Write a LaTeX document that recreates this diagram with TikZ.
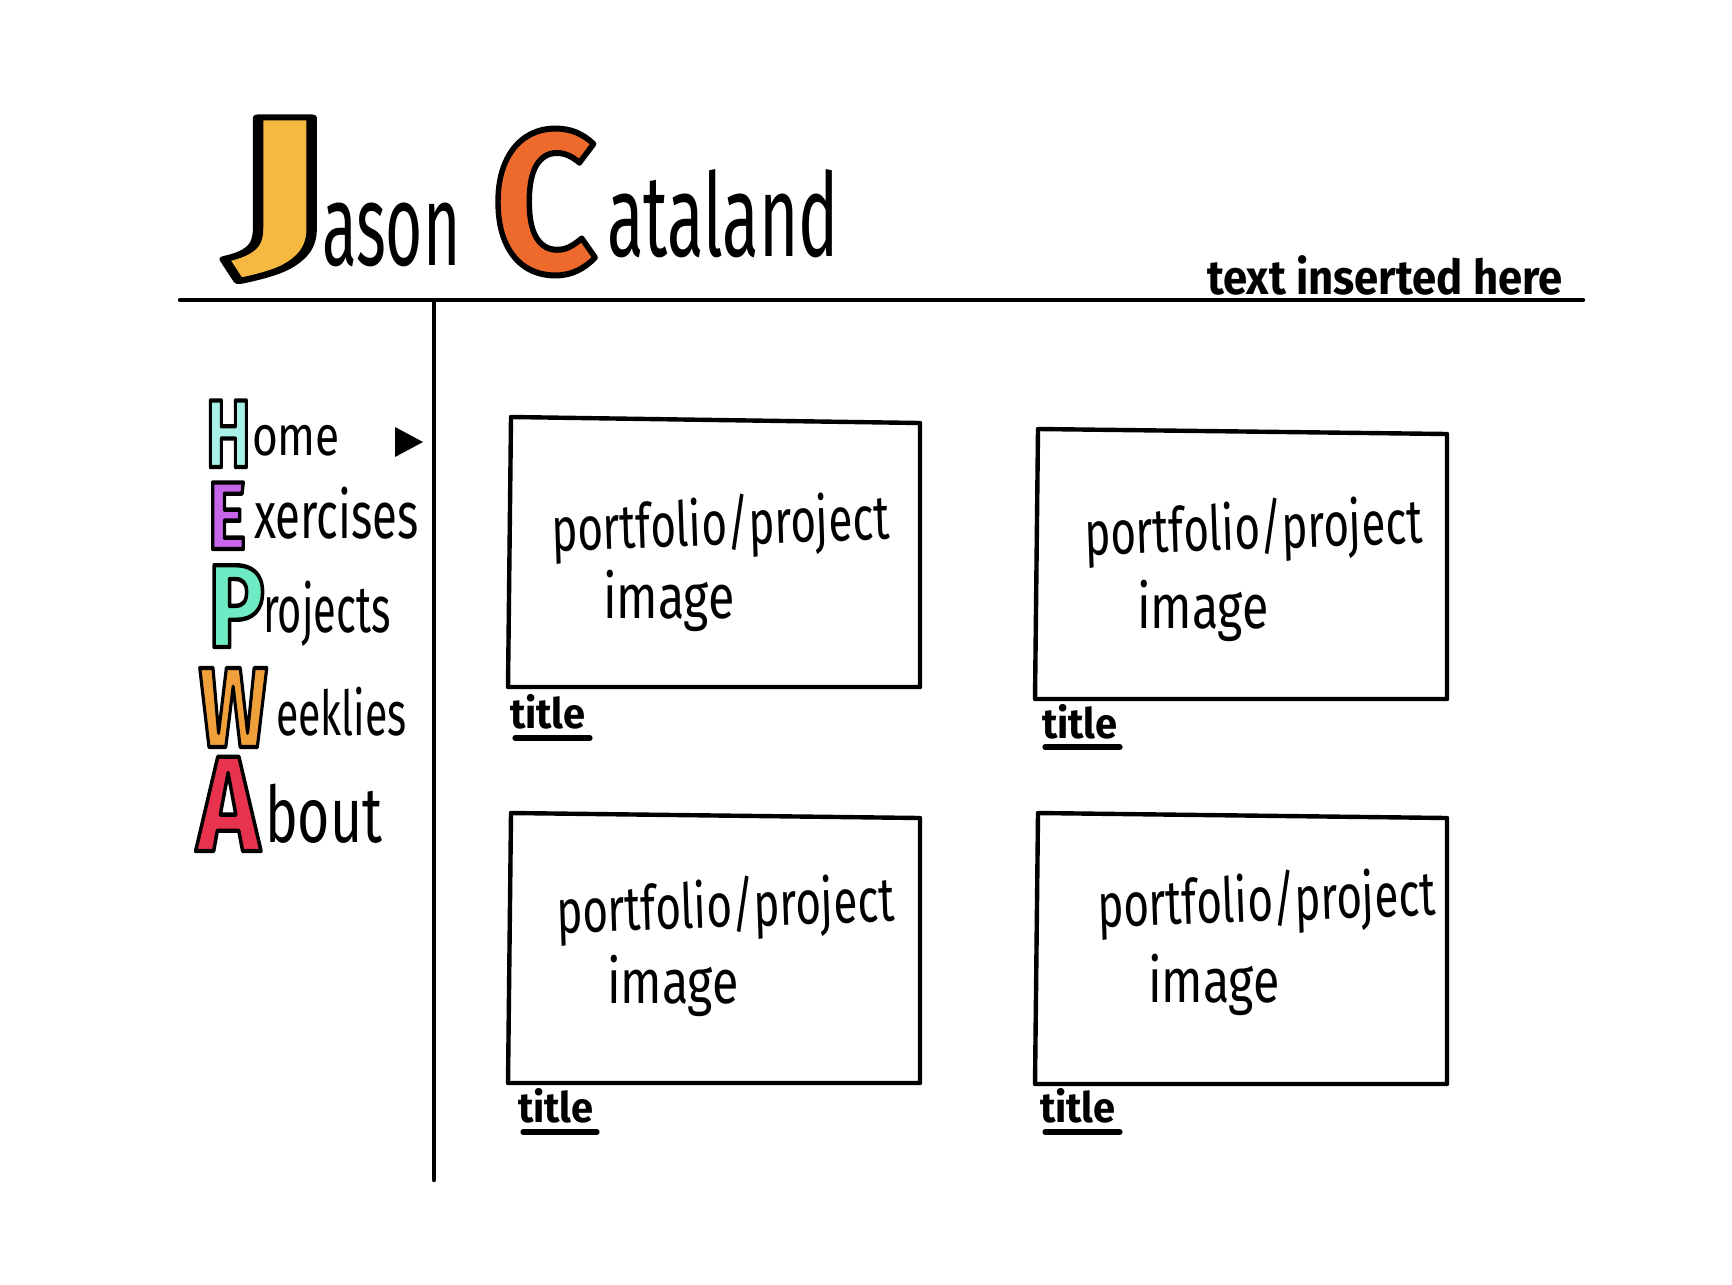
\documentclass[tikz,border=0pt]{standalone}
\usepackage{fontspec}
\setmainfont{Fira Sans}
\definecolor{jcol}{HTML}{F5B942}
\definecolor{ccol}{HTML}{EE6A2C}
\definecolor{hcol}{HTML}{A9F0E8}
\definecolor{ecol}{HTML}{C765EA}
\definecolor{pcol}{HTML}{6EEBC4}
\definecolor{wcol}{HTML}{F0A03A}
\definecolor{acol}{HTML}{E8334F}
\newcommand{\fs}[1]{\fontsize{#1}{#1}\selectfont}
\newcommand{\bigletter}[5]{\fs{#1}\bfseries\scalebox{#2}[1]{\textcolor{#3}{\special{pdf:literal direct 2 Tr #5 w 0 0 0 RG 1 j}#4\special{pdf:literal direct 0 Tr}}}}
\begin{document}
\begin{tikzpicture}[x=0.5pt,y=-0.5pt,
  txt/.style={inner sep=0pt,outer sep=0pt,anchor=base west},
  rule/.style={line width=2.2pt,line cap=round},
  card/.style={line width=2.2pt,line join=round},
  uline/.style={line width=2.6pt,line cap=round}]
\useasboundingbox (0,0) rectangle (1732,1284);
\fill[white] (0,0) rectangle (1732,1284);

% header name
\node[txt] (J) at (228,249) {\bigletter{95}{1.72}{jcol}{J}{3}};
\node[txt] (ason) at (322,265) {\fs{58}\scalebox{0.55}[1]{ason}};
\node[txt] (C) at (492,272) {\bigletter{101}{0.9}{ccol}{C}{3}};
\node[txt] (ataland) at (607,256) {\fs{58}\scalebox{0.58}[1]{ataland}};
\node[txt] (tagline) at (1207,294) {\fs{24}\bfseries\scalebox{0.91}[1]{text inserted here}};

% rules
\coordinate (hl) at (180,300);
\coordinate (hr) at (1583,300);
\coordinate (vt) at (434,300);
\coordinate (vb) at (434,1180);
\draw[rule] (hl) -- (hr);
\draw[rule] (vt) -- (vb);

% navigation
\node[txt] (H) at (206,467) {\bigletter{48}{0.7}{hcol}{H}{2.2}};
\node[txt] (home) at (252,455) {\fs{28}\scalebox{0.79}[1]{ome}};
\coordinate (t1) at (395,427);
\coordinate (t2) at (423,442);
\coordinate (t3) at (395,457);
\fill (t1) -- (t2) -- (t3) -- cycle;
\node[txt] (E) at (208,549) {\bigletter{48}{0.75}{ecol}{E}{2.2}};
\node[txt] (exer) at (254,538) {\fs{33}\scalebox{0.69}[1]{xercises}};
\node[txt] (P) at (208,647) {\bigletter{59}{0.8}{pcol}{P}{2.2}};
\node[txt] (proj) at (263,632) {\fs{33}\scalebox{0.63}[1]{rojects}};
\node[txt] (W) at (199,747) {\bigletter{57}{0.71}{wcol}{W}{2.2}};
\node[txt] (week) at (276,735) {\fs{31}\scalebox{0.66}[1]{eeklies}};
\node[txt] (A) at (197,851) {\bigletter{68}{0.78}{acol}{A}{2.2}};
\node[txt] (about) at (265,842) {\fs{39}\scalebox{0.71}[1]{bout}};

% cards
\draw[card] (511,417) -- (920,423) -- (920,687) -- (508,687) -- cycle;
\node[txt,rotate=2] (p1) at (552,551) {\fs{31}\scalebox{0.71}[1]{portfolio/project}};
\node[txt] (i1) at (603,618) {\fs{31}\scalebox{0.78}[1]{image}};
\node[txt] (ti1) at (510,728) {\fs{21}\bfseries\scalebox{0.95}[1]{title}};
\coordinate (u1a) at (515,738); \coordinate (u1b) at (590,738);
\draw[uline] (u1a) -- (u1b);

\draw[card] (1038,429) -- (1447,434) -- (1447,699) -- (1035,699) -- cycle;
\node[txt,rotate=2] (p2) at (1085,555) {\fs{31}\scalebox{0.71}[1]{portfolio/project}};
\node[txt] (i2) at (1137,628) {\fs{31}\scalebox{0.78}[1]{image}};
\node[txt] (ti2) at (1042,738) {\fs{21}\bfseries\scalebox{0.95}[1]{title}};
\coordinate (u2a) at (1045,747); \coordinate (u2b) at (1120,747);
\draw[uline] (u2a) -- (u2b);

\draw[card] (511,813) -- (920,818) -- (920,1083) -- (508,1083) -- cycle;
\node[txt,rotate=2] (p3) at (557,933) {\fs{31}\scalebox{0.71}[1]{portfolio/project}};
\node[txt] (i3) at (607,1003) {\fs{31}\scalebox{0.78}[1]{image}};
\node[txt] (ti3) at (518,1122) {\fs{21}\bfseries\scalebox{0.95}[1]{title}};
\coordinate (u3a) at (523,1132); \coordinate (u3b) at (597,1132);
\draw[uline] (u3a) -- (u3b);

\draw[card] (1038,813) -- (1447,818) -- (1447,1084) -- (1035,1084) -- cycle;
\node[txt,rotate=2] (p4) at (1098,927) {\fs{31}\scalebox{0.71}[1]{portfolio/project}};
\node[txt] (i4) at (1148,1002) {\fs{31}\scalebox{0.78}[1]{image}};
\node[txt] (ti4) at (1040,1122) {\fs{21}\bfseries\scalebox{0.95}[1]{title}};
\coordinate (u4a) at (1045,1132); \coordinate (u4b) at (1120,1132);
\draw[uline] (u4a) -- (u4b);
\end{tikzpicture}
\end{document}
